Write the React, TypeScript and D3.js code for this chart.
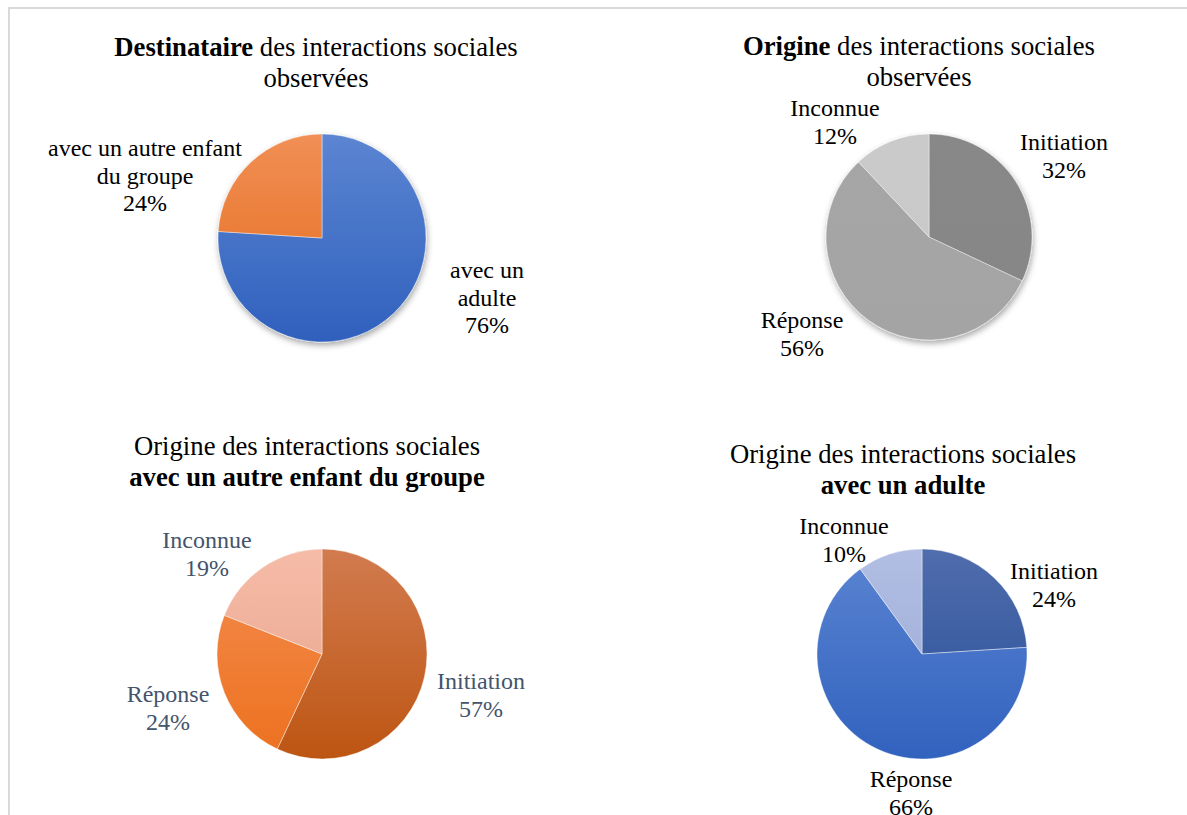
import React from 'react';
import * as d3 from 'd3';

// data
const destCategories = ['avec un adulte', 'avec un autre enfant du groupe'];
const destValues = [76, 24];
const origineCategories = ['Initiation', 'Réponse', 'Inconnue'];
const origineValues = [32, 56, 12];
const enfantValues = [57, 24, 19];
const adulteValues = [24, 66, 10];

const FONT = "'Liberation Serif', Times";

type Slice = { name: string; value: number; top: string; bottom: string; lines: string[]; dx: number; dy: number };
type Chart = {
  id: string;
  cx: number;
  cy: number;
  r: number;
  titleX: number;
  titleY: number;
  title: { text: string; bold: boolean }[][];
  labelColor: string;
  shadow: boolean;
  slices: Slice[];
};

const charts: Chart[] = [
  {
    id: 'dest', cx: 322, cy: 238, r: 104, titleX: 316, titleY: 56, labelColor: '#000', shadow: true,
    title: [[{ text: 'Destinataire', bold: true }, { text: ' des interactions sociales', bold: false }], [{ text: 'observées', bold: false }]],
    slices: [
      { name: destCategories[0], value: destValues[0], top: '#5c85d2', bottom: '#2f60bd', lines: ['avec un', 'adulte', '76%'], dx: 165, dy: 40 },
      { name: destCategories[1], value: destValues[1], top: '#f18f55', bottom: '#e3691a', lines: ['avec un autre enfant', 'du groupe', '24%'], dx: -177, dy: -82 },
    ],
  },
  {
    id: 'orig', cx: 929, cy: 237, r: 103, titleX: 919, titleY: 55, labelColor: '#000', shadow: true,
    title: [[{ text: 'Origine', bold: true }, { text: ' des interactions sociales', bold: false }], [{ text: 'observées', bold: false }]],
    slices: [
      { name: origineCategories[0], value: origineValues[0], top: '#888888', bottom: '#868686', lines: ['Initiation', '32%'], dx: 135, dy: -87 },
      { name: origineCategories[1], value: origineValues[1], top: '#a6a6a6', bottom: '#a4a4a4', lines: ['Réponse', '56%'], dx: -127, dy: 91 },
      { name: origineCategories[2], value: origineValues[2], top: '#cacaca', bottom: '#c8c8c8', lines: ['Inconnue', '12%'], dx: -94, dy: -121 },
    ],
  },
  {
    id: 'enfant', cx: 322, cy: 654, r: 105, titleX: 307, titleY: 455, labelColor: '#44546a', shadow: false,
    title: [[{ text: 'Origine des interactions sociales', bold: false }], [{ text: 'avec un autre enfant du groupe', bold: true }]],
    slices: [
      { name: origineCategories[0], value: enfantValues[0], top: '#d27b4f', bottom: '#bd5512', lines: ['Initiation', '57%'], dx: 159, dy: 35 },
      { name: origineCategories[1], value: enfantValues[1], top: '#f48c50', bottom: '#ec711e', lines: ['Réponse', '24%'], dx: -154, dy: 48 },
      { name: origineCategories[2], value: enfantValues[2], top: '#f6bca8', bottom: '#e6a189', lines: ['Inconnue', '19%'], dx: -115, dy: -106 },
    ],
  },
  {
    id: 'adulte', cx: 922, cy: 654, r: 105, titleX: 903, titleY: 463, labelColor: '#000', shadow: false,
    title: [[{ text: 'Origine des interactions sociales', bold: false }], [{ text: 'avec un adulte', bold: true }]],
    slices: [
      { name: origineCategories[0], value: adulteValues[0], top: '#506dad', bottom: '#264d96', lines: ['Initiation', '24%'], dx: 132, dy: -75 },
      { name: origineCategories[1], value: adulteValues[1], top: '#5b84d2', bottom: '#3162be', lines: ['Réponse', '66%'], dx: -11, dy: 133 },
      { name: origineCategories[2], value: adulteValues[2], top: '#b2bee3', bottom: '#97a6d3', lines: ['Inconnue', '10%'], dx: -78, dy: -120 },
    ],
  },
];

const pie = d3.pie<Slice>().sort(null).value(d => d.value);

function PieChart({ c }: { c: Chart }) {
  const arc = d3.arc<d3.PieArcDatum<Slice>>().innerRadius(0).outerRadius(c.r);
  const arcs = pie(c.slices);
  return (
    <g>
      <defs>
        {c.slices.map((s, i) => (
          <linearGradient key={i} id={`${c.id}-g${i}`} gradientUnits="userSpaceOnUse" x1={0} y1={-c.r} x2={0} y2={c.r}>
            <stop offset="0" stopColor={s.top} />
            <stop offset="1" stopColor={s.bottom} />
          </linearGradient>
        ))}
      </defs>
      <text textAnchor="middle" fontFamily={FONT} fontSize={26.7} fill="#000">
        {c.title.map((line, li) => (
          <tspan key={li} x={c.titleX} y={c.titleY + li * 31}>
            {line.map((p, pi) => (
              <tspan key={pi} fontWeight={p.bold ? 'bold' : 'normal'}>{p.text}</tspan>
            ))}
          </tspan>
        ))}
      </text>
      <g transform={`translate(${c.cx},${c.cy})`} filter={c.shadow ? 'url(#shadow)' : undefined}>
        {arcs.map((a, i) => (
          <path key={i} d={arc(a) ?? ''} fill={`url(#${c.id}-g${i})`} stroke="#ffffff" strokeWidth={0.6} strokeOpacity={0.7} />
        ))}
      </g>
      {c.slices.map((s, i) => (
        <text key={i} textAnchor="middle" fontFamily={FONT} fontSize={24} fill={c.labelColor}>
          {s.lines.map((l, li) => (
            <tspan key={li} x={c.cx + s.dx} y={c.cy + s.dy + li * 27.5}>{l}</tspan>
          ))}
        </text>
      ))}
    </g>
  );
}

export default function App() {
  return (
    <div style={{ position: 'absolute', left: 0, top: 0 }}>
      <svg width={1187} height={815} style={{ display: 'block', background: '#fff' }}>
        <defs>
          <filter id="shadow" x="-20%" y="-20%" width="140%" height="150%">
            <feDropShadow dx={1} dy={3} stdDeviation={3} floodColor="#000" floodOpacity={0.35} />
          </filter>
        </defs>
        <rect x={9} y={8} width={1200} height={830} fill="none" stroke="#d9d9d9" strokeWidth={2} />
        {charts.map(c => (
          <PieChart key={c.id} c={c} />
        ))}
      </svg>
    </div>
  );
}
